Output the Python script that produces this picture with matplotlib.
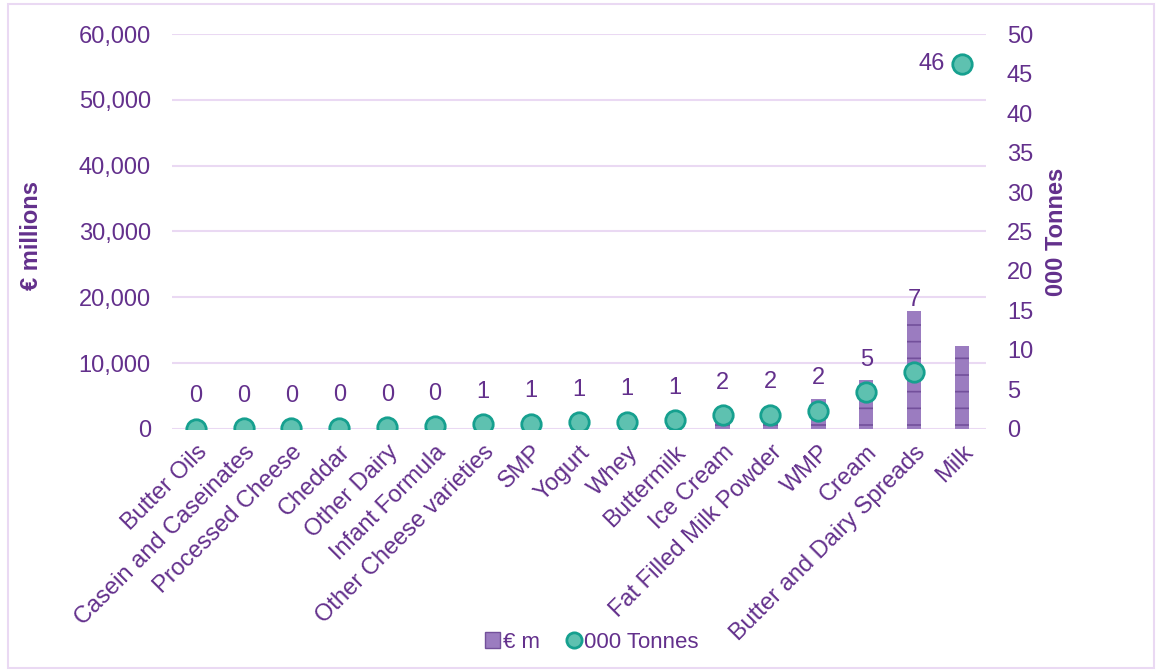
import matplotlib
matplotlib.use('Agg')
import matplotlib.pyplot as plt
from matplotlib.patches import Rectangle
from matplotlib.lines import Line2D
from matplotlib.ticker import FuncFormatter
import numpy as np

plt.rcParams['font.family'] = ['Liberation Sans', 'DejaVu Sans']
plt.rcParams['hatch.linewidth'] = 1.2

TEXT = '#63308c'
BAR = '#9b7cc0'
BAR_EDGE = '#73509b'
DOT = '#5ec1b0'
DOT_EDGE = '#16a08f'
GRID = '#ead9f3'

categories = ['Butter Oils', 'Casein and Caseinates', 'Processed Cheese', 'Cheddar',
              'Other Dairy', 'Infant Formula', 'Other Cheese varieties', 'SMP', 'Yogurt',
              'Whey', 'Buttermilk', 'Ice Cream', 'Fat Filled Milk Powder', 'WMP', 'Cream',
              'Butter and Dairy Spreads', 'Milk']
eur_m = [20, 60, 150, 250, 150, 300, 600, 500, 800, 500, 900, 1500, 2300, 4500, 7400, 17900, 12600]
tonnes = [0.02, 0.05, 0.1, 0.15, 0.2, 0.3, 0.55, 0.65, 0.8, 0.9, 1.1, 1.7, 1.8, 2.3, 4.6, 7.2, 46.2]

fig = plt.figure(figsize=(11.6, 6.71), dpi=100)
fig.patches.append(Rectangle((0.007, 0.004), 0.988, 0.99, transform=fig.transFigure,
                             fill=False, edgecolor='#ead9f3', linewidth=1.5))
ax = fig.add_axes([0.148, 0.361, 0.702, 0.588])
ax2 = ax.twinx()

x = np.arange(len(categories))
ax.bar(x, eur_m, width=0.3, color=BAR, edgecolor=BAR_EDGE, hatch='-', linewidth=0, zorder=2)
ax.set_ylim(0, 60000)
ax.set_xlim(-0.5, len(categories) - 0.5)
ax.set_yticks(np.arange(0, 60001, 10000))
ax.yaxis.set_major_formatter(FuncFormatter(lambda v, p: f'{int(v):,}'))
ax.grid(axis='y', color=GRID, linewidth=1.5, zorder=0)
ax.set_axisbelow(True)

ax2.plot(x, tonnes, linestyle='none', marker='o', markersize=14, markerfacecolor=DOT,
         markeredgecolor=DOT_EDGE, markeredgewidth=2, zorder=5)
ax2.set_ylim(0, 50)
ax2.set_yticks(np.arange(0, 51, 5))

for a in (ax, ax2):
    for s in a.spines.values():
        s.set_visible(False)
    a.tick_params(length=0, labelsize=17, labelcolor=TEXT)

ax.tick_params(axis='y', pad=15)
ax2.tick_params(axis='y', pad=15)
ax.set_xticks(x)
ax.set_xticklabels(categories, rotation=45, ha='right', rotation_mode='anchor')
ax.tick_params(axis='x', pad=9)

ax.set_ylabel('€ millions', fontsize=17, fontweight='bold', color=TEXT)
ax2.set_ylabel('000 Tonnes', fontsize=17, fontweight='bold', color=TEXT)
ax.yaxis.set_label_coords(-0.158, 0.49)
ax2.yaxis.set_label_coords(1.073, 0.50)

# data labels: above the marker, or above the bar when the bar is taller
scale = 60000 / 50
for i, (b, t) in enumerate(zip(eur_m, tonnes)):
    if i == len(categories) - 1:
        ax2.annotate(f'{t:.0f}', xy=(i, t), xytext=(-22, 0), textcoords='offset points',
                     ha='center', va='center', fontsize=17, color=TEXT)
        continue
    y = max(t * scale + 4900, b + 1700)
    ax.text(i, y, f'{t:.0f}', ha='center', va='center', fontsize=17, color=TEXT, zorder=6)

handles = [Rectangle((0, 0), 1, 1, facecolor=BAR, edgecolor=BAR_EDGE, linewidth=1),
           Line2D([], [], linestyle='none', marker='o', markersize=11, markerfacecolor=DOT,
                  markeredgecolor=DOT_EDGE, markeredgewidth=2)]
fig.legend(handles, ['€ m', '000 Tonnes'], loc='center', bbox_to_anchor=(0.51, 0.043),
           ncol=2, frameon=False, fontsize=16, labelcolor=TEXT, handlelength=0.7,
           handleheight=0.7, handletextpad=0.1, columnspacing=1.2)

plt.savefig('out.png', dpi=100)
plt.close()
